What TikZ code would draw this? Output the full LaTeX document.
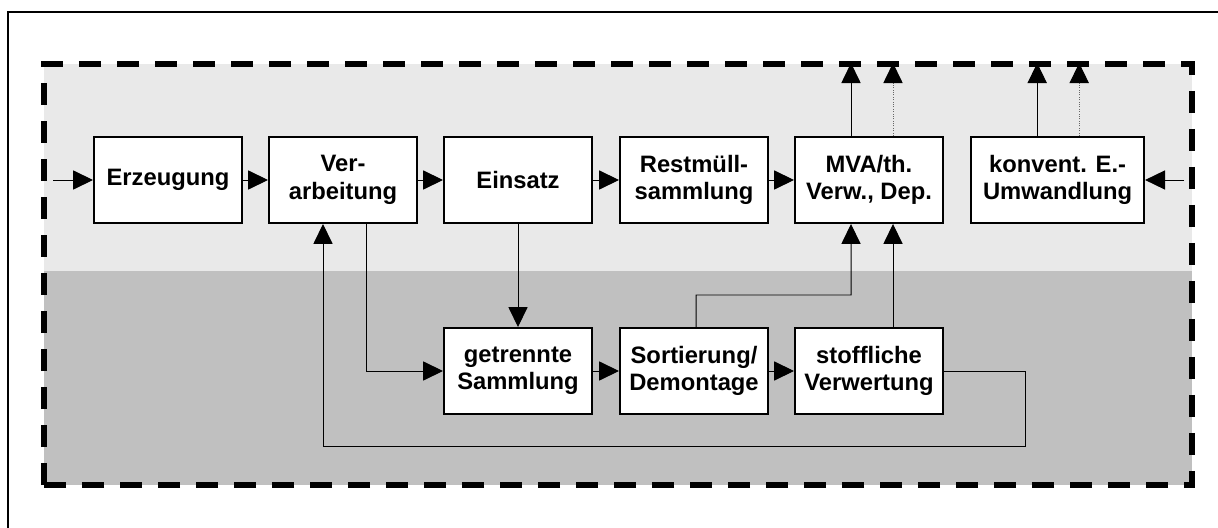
\documentclass[tikz,border=0pt]{standalone}
\usepackage{fontspec}
\setmainfont{Liberation Sans}
\usepackage{tikz}
\usetikzlibrary{arrows.meta}

\definecolor{upperband}{HTML}{E9E9E9}
\definecolor{lowerband}{HTML}{C0C0C0}

\begin{document}
\begin{tikzpicture}[
	stage/.style={draw,line width=1.4pt,fill=white,minimum width=3.7cm,minimum height=2.15cm,inner sep=0pt,align=center,font=\fontsize{16.9}{19.5}\selectfont\bfseries},
	flow/.style={line width=0.7pt,-{Triangle[length=0.5cm,width=0.48cm,black]}},
	minor/.style={flow,densely dotted,draw=black!60}]
	\useasboundingbox (0,0) rectangle (30.45,-13.2);
	% frame and the two bands
	\draw[line width=1.4pt] (0.2,-14) -- (0.2,-0.3) -- (31,-0.3);
	\fill[upperband] (1.1,-1.6) rectangle (29.8,-6.775);
	\fill[lowerband] (1.1,-6.775) rectangle (29.8,-12.125);
	\draw[line width=4.2pt,dash pattern=on 0.55cm off 0.4cm] (1.1,-12.125) -- (1.1,-1.6) -- (29.8,-1.6) -- (29.8,-12.125) -- cycle;

			\node[stage](erz) at (4.2,-4.5) {Erzeugung};
			\node[stage](verarb) at (8.575,-4.5) {Ver-\\arbeitung};
			\node[stage](einsatz) at (12.95,-4.5) {Einsatz};
			\node[stage](rest) at (17.35,-4.5) {Restmüll-\\sammlung};
			\node[stage](mva) at (21.725,-4.5) {MVA/th.\\Verw., Dep.};
			\node[stage,minimum width=4.325cm](konv) at (26.44,-4.5) {konvent. E.-\\Umwandlung};
			\node[stage](getr) at (12.95,-9.275) {getrennte\\Sammlung};
			\node[stage](sort) at (17.35,-9.275) {Sortierung/\\Demontage};
			\node[stage](stoff) at (21.725,-9.275) {stoffliche\\Verwertung};
			\coordinate (in) at (1.325,-4.5);
			\coordinate (inkonv) at (29.6,-4.5);
			% main chain
			\draw[flow] (in)--(erz);
			\draw[flow] (erz)--(verarb);
			\draw[flow] (verarb)--(einsatz);
			\draw[flow] (einsatz)--(rest);
			\draw[flow] (rest)--(mva);
			\draw[flow] (inkonv)--(konv);
			% outputs across the upper boundary
			\draw[flow] ([xshift=-0.45cm]mva.north)--++(0,1.825);
			\draw[minor] ([xshift=0.6cm]mva.north)--++(0,1.825);
			\draw[flow] ([xshift=-0.51cm]konv.north)--++(0,1.825);
			\draw[minor] ([xshift=0.54cm]konv.north)--++(0,1.825);
			% separate collection loop
			\draw[flow] (einsatz)--(getr);
			\draw[flow] ([xshift=0.575cm]verarb.south) |- (getr.west);
			\draw[flow] (getr)--(sort);
			\draw[flow] (sort)--(stoff);
			\draw[flow] ([xshift=0.05cm]sort.north) |- (21.275,-7.375) -- ([xshift=-0.45cm]mva.south);
			\draw[flow] ([xshift=0.6cm]stoff.north)--([xshift=0.6cm]mva.south);
			\draw[flow] (stoff.east) -| (25.625,-11.15) -| ([xshift=-0.5cm]verarb.south);
		\end{tikzpicture}
\end{document}
